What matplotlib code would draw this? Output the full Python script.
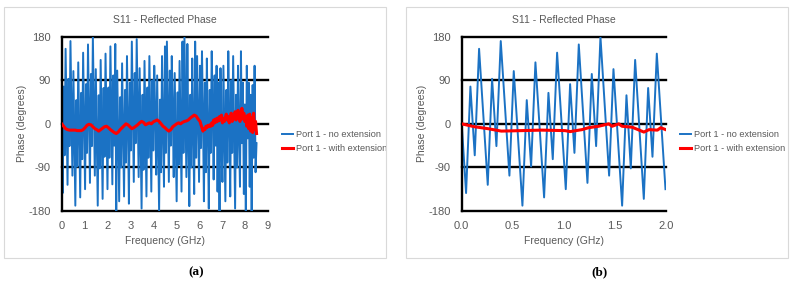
import numpy as np
import matplotlib
matplotlib.use("Agg")
import matplotlib.pyplot as plt
from matplotlib.patches import Rectangle

plt.rcParams['font.family'] = ['Liberation Sans', 'DejaVu Sans']
plt.rcParams['axes.unicode_minus'] = False

# frequency step of the sweep (201 points from 0 to 8.5 GHz)
step = 0.0425

# blue trace (0-2 GHz from panel b, rest from panel a)
blue_0_2 = [0, -143, 77, -65, 155, 15, -126, 93, -46, 171,
            32, -107, 109, -30, -169, 49, -88, 127, -12, -152,
            64, -73, 147, 6, -135, 82, -60, 164, 21, -122,
            103, -46, 180, 36, -107, 113, -28, -169, 59, -92,
            132, -12, -155, 74, -68, 145, 5, -135]
blue_2_85 = [75, -70, 160, 15, -125, 100, -45, 165, -180,
             110, -30, -160, 55, -90, 125, -10, -150, 70,
             -80, 140, 5, -165, 85, -55, 170, 25, -120,
             105, -40, 175, 35, -110, 115, -25, -175, 60,
             -95, 130, -15, -150, 75, -70, 140, 0, -140,
             90, -55, 120, 20, -105, 100, -35, -180, 50,
             -100, 140, -10, -130, 160, -60, 170, 30, -120,
             110, -45, 140, 25, -110, 105, -30, -160, 65,
             -85, 130, 0, -140, 170, -60, 180, 40, -110,
             165, -30, -170, 60, -90, 135, -15, -145, 170,
             -70, 140, 10, -120, 120, -50, 150, 20, -160,
             85, -100, 135, -5, -175, 70, -60, 150, 30,
             -115, 100, -45, 120, -140, 85, -180, 115, -40,
             -120, 120, -20, -160, 70, -80, 150, 10, -150,
             90, -60, 140, -10, -175, 60, -90, 120, -20,
             -130, 150, -40, 85, -145, 40, -180, 120, -30,
             85, -130, 60, -180, 80, -70, 120, -100, -40]
blue = blue_0_2 + blue_2_85

# red trace, panel a: coarse part (0 - 5.95 GHz, every 2 samples) and noisy part
red_a_lo = [0, -5, -10, -12, -13, -13, -13, -13, -14, -14,
            -14, -12, -8, -3, -1, -2, -6, -10, -12, -15,
            -12, -9, -6, -5, -8, -12, -15, -18, -20, -17,
            -12, -8, -4, 0, -2, -6, -10, -8, -5, -2,
            2, 5, 3, -2, 0, 2, 0, 4, 6, 8,
            5, 0, -5, -8, -12, -15, -12, -6, -3, 0,
            2, 0, 3, 5, 6, 8, 12, 15, 18, 16, 10]
red_a_hi = [5, -2, -8, -15, -10, -12, -5, -8, -3, -6,
            -2, -5, 2, -3, 8, 2, 10, 4, 12, 6,
            15, 8, 18, 2, 10, 5, 14, 20, 8, 15,
            2, 12, 22, 5, 15, 10, 25, 8, 18, 28,
            12, 5, 20, 32, 10, 22, 5, 15, -5, 18,
            -10, 20, -15, 12, -18, 22, -12, 5, -20]

# red trace, panel b
red_b_f = [0, 0.125, 0.257, 0.388, 0.586, 0.783, 1.013, 1.063, 1.178,
           1.243, 1.342, 1.441, 1.474, 1.539, 1.572, 1.671, 1.786, 1.836,
           1.918, 1.951, 2.0]
red_b = [0, -6, -10, -15, -14, -13, -14, -16, -12, -8, -5, 0, -5, 0, -5,
         -7, -17, -12, -13, -8, -12]

blue_color = '#1b72c4'
gray = '#595959'

f_blue = np.arange(len(blue)) * step
f_red_a = np.concatenate([np.arange(len(red_a_lo)) * 2 * step,
                          np.arange(len(red_a_hi)) * step + len(red_a_lo) * 2 * step])
red_a = red_a_lo + red_a_hi

fig = plt.figure(figsize=(7.95, 2.89), dpi=100)

# light grey chart borders
for x0 in [4 / 795, 406 / 795]:
    fig.add_artist(Rectangle((x0, 1 - 258 / 289), 382 / 795, 251 / 289,
                             transform=fig.transFigure, fill=False,
                             edgecolor='#d9d9d9', lw=0.8))


def style(ax, xmax, xticks, fmt):
    ax.set_xlim(0, xmax)
    ax.set_ylim(-180, 180)
    ax.set_yticks([-180, -90, 0, 90, 180])
    ax.set_xticks(xticks)
    ax.set_xticklabels([fmt % t for t in xticks])
    for y in [-180, -90, 0, 90, 180]:
        ax.axhline(y, color='black', lw=1.7, zorder=1, clip_on=False)
    for s in ['top', 'right', 'bottom']:
        ax.spines[s].set_visible(False)
    ax.spines['left'].set_linewidth(1.7)
    ax.tick_params(axis='y', length=0, labelsize=8, labelcolor=gray, pad=8)
    ax.tick_params(axis='x', length=0, labelsize=8, labelcolor=gray, pad=7)
    ax.set_title('S11 - Reflected Phase', fontsize=7.5, color=gray, pad=10)
    ax.set_xlabel('Frequency (GHz)', fontsize=7.5, color=gray, labelpad=4)
    ax.set_ylabel('Phase (degrees)', fontsize=7.5, color=gray, labelpad=1)
    ax.legend(loc='center left', bbox_to_anchor=(1.03, 0.40), frameon=False,
              fontsize=6.6, handlelength=1.2, handletextpad=0.3, labelspacing=0.55,
              labelcolor=gray)


# panel a
ax1 = fig.add_axes([0.0776, 0.270, 0.2595, 0.603])
ax1.plot(f_blue, blue, color=blue_color, lw=1.4, zorder=2, label='Port 1 - no extension')
ax1.plot(f_red_a, red_a, color='#ff0000', lw=2.2, zorder=3, label='Port 1 - with extension')
style(ax1, 9, list(range(10)), '%d')

# panel b
ax2 = fig.add_axes([0.5808, 0.270, 0.2566, 0.603])
n_b = len(blue_0_2)
ax2.plot(f_blue[:n_b], blue_0_2, color=blue_color, lw=1.4, zorder=2, label='Port 1 - no extension')
ax2.plot(red_b_f, red_b, color='#ff0000', lw=2.2, zorder=3, label='Port 1 - with extension')
style(ax2, 2, [0, 0.5, 1.0, 1.5, 2.0], '%.1f')

# captions
fig.text(196 / 795, 1 - 272 / 289, '(a)', ha='center', va='center', fontsize=9.5,
         family='Liberation Serif', fontweight='bold')
fig.text(599 / 795, 1 - 272 / 289, '(b)', ha='center', va='center', fontsize=9.5,
         family='Liberation Serif', fontweight='bold')

fig.savefig('out.png', dpi=100)
